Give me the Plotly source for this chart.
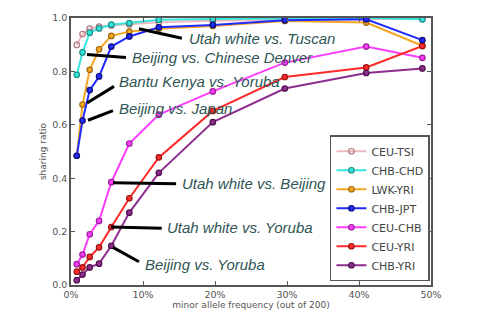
import plotly.graph_objects as go

freq = [0.8, 1.6, 2.6, 3.9, 5.6, 8.1, 12.2, 19.7, 29.7, 41.0, 48.8]

series_names = ["CEU-TSI", "CHB-CHD", "LWK-YRI", "CHB-JPT", "CEU-CHB", "CEU-YRI", "CHB-YRI"]
ceu_tsi = [0.899, 0.94, 0.96, 0.968, 0.972, 0.976, 0.984, 0.99, 0.994, 0.996, 0.996]
chb_chd = [0.787, 0.871, 0.945, 0.961, 0.975, 0.981, 0.993, 0.996, 0.998, 1.0, 0.995]
lwk_yri = [0.484, 0.676, 0.806, 0.883, 0.933, 0.949, 0.96, 0.97, 0.989, 0.983, 0.896]
chb_jpt = [0.484, 0.616, 0.73, 0.781, 0.893, 0.931, 0.965, 0.974, 0.992, 0.995, 0.917]
ceu_chb = [0.078, 0.114, 0.19, 0.24, 0.385, 0.53, 0.638, 0.725, 0.833, 0.893, 0.851]
ceu_yri = [0.05, 0.066, 0.105, 0.141, 0.217, 0.325, 0.478, 0.652, 0.779, 0.815, 0.895]
chb_yri = [0.018, 0.039, 0.066, 0.08, 0.147, 0.271, 0.42, 0.61, 0.736, 0.794, 0.811]
series_values = [ceu_tsi, chb_chd, lwk_yri, chb_jpt, ceu_chb, ceu_yri, chb_yri]

line_colors = ["#f0b8c0", "#33e6dc", "#f5a623", "#1f2bff", "#ff3dff", "#ff2a2a", "#8e2d8e"]
marker_fill = ["rgba(255,255,255,0)", "#33e6dc", "#f5a623", "#1f2bff", "#ff3dff", "#ff2a2a", "#8e2d8e"]
marker_edge = ["#b07880", "#1f8f8a", "#a06a10", "#10107a", "#9a209a", "#991515", "#4e104e"]

x_ticks = [0, 10, 20, 30, 40, 50]
x_tick_labels = ["0%", "10%", "20%", "30%", "40%", "50%"]
y_ticks = [0.0, 0.2, 0.4, 0.6, 0.8, 1.0]
y_tick_labels = ["0.0", "0.2", "0.4", "0.6", "0.8", "1.0"]

labels = ["Utah white vs. Tuscan", "Beijing vs. Chinese Denver", "Bantu Kenya vs. Yoruba",
          "Beijing vs. Japan", "Utah white vs. Beijing", "Utah white vs. Yoruba", "Beijing vs. Yoruba"]
label_x = [16.1, 8.2, 6.4, 6.4, 15.1, 13.1, 10.0]
label_y = [0.924, 0.852, 0.762, 0.661, 0.379, 0.217, 0.076]
ptr_x0 = [9.44, 2.22, 2.22, 2.36, 5.83, 5.56, 5.83]
ptr_y0 = [0.960, 0.863, 0.682, 0.617, 0.383, 0.217, 0.141]
ptr_x1 = [15.4, 7.64, 5.97, 5.83, 14.6, 12.6, 9.44]
ptr_y1 = [0.924, 0.852, 0.744, 0.653, 0.379, 0.213, 0.087]

fig = go.Figure()
for name, vals, lc, mf, me in zip(series_names, series_values, line_colors, marker_fill, marker_edge):
    fig.add_trace(go.Scatter(
        x=freq, y=vals, name=name, mode="lines+markers",
        line=dict(color=lc, width=2),
        marker=dict(size=5.5, color=mf, line=dict(color=me, width=1.2)),
    ))

for t, tx, ty, x0, y0, x1, y1 in zip(labels, label_x, label_y, ptr_x0, ptr_y0, ptr_x1, ptr_y1):
    fig.add_shape(type="line", x0=x0, y0=y0, x1=x1, y1=y1, xref="x", yref="y",
                  line=dict(color="black", width=3))
    fig.add_annotation(x=tx, y=ty, text="<i>" + t + "</i>", showarrow=False,
                       xanchor="left", yanchor="middle", xref="x", yref="y",
                       font=dict(family="Liberation Sans, Arial", size=15, color="#2f5555"))

axis_common = dict(showgrid=False, zeroline=False, showline=True, mirror="ticks",
                   linecolor="#555555", linewidth=1.5, ticks="inside", ticklen=4,
                   tickcolor="#555555",
                   tickfont=dict(family="DejaVu Sans", size=9.5, color="#555555"))

fig.update_xaxes(range=[0, 50], tickvals=x_ticks, ticktext=x_tick_labels,
                 title=dict(text="minor allele frequency (out of 200)", standoff=2,
                            font=dict(family="DejaVu Sans", size=9, color="#555555")),
                 **axis_common)
fig.update_yaxes(range=[0, 1.0], tickvals=y_ticks, ticktext=y_tick_labels,
                 title=dict(text="sharing ratio", standoff=4,
                            font=dict(family="DejaVu Sans", size=9, color="#555555")),
                 **axis_common)

fig.update_layout(
    width=480, height=320,
    margin=dict(l=71, r=49, t=12, b=31),
    plot_bgcolor="white", paper_bgcolor="white",
    showlegend=True,
    legend=dict(x=0.997, y=0.014, xanchor="right", yanchor="bottom",
                bgcolor="white", bordercolor="#555555", borderwidth=1.5,
                font=dict(family="DejaVu Sans", size=11, color="#444444"),
                tracegroupgap=0, itemwidth=30),
)

fig.write_html("out.html")
